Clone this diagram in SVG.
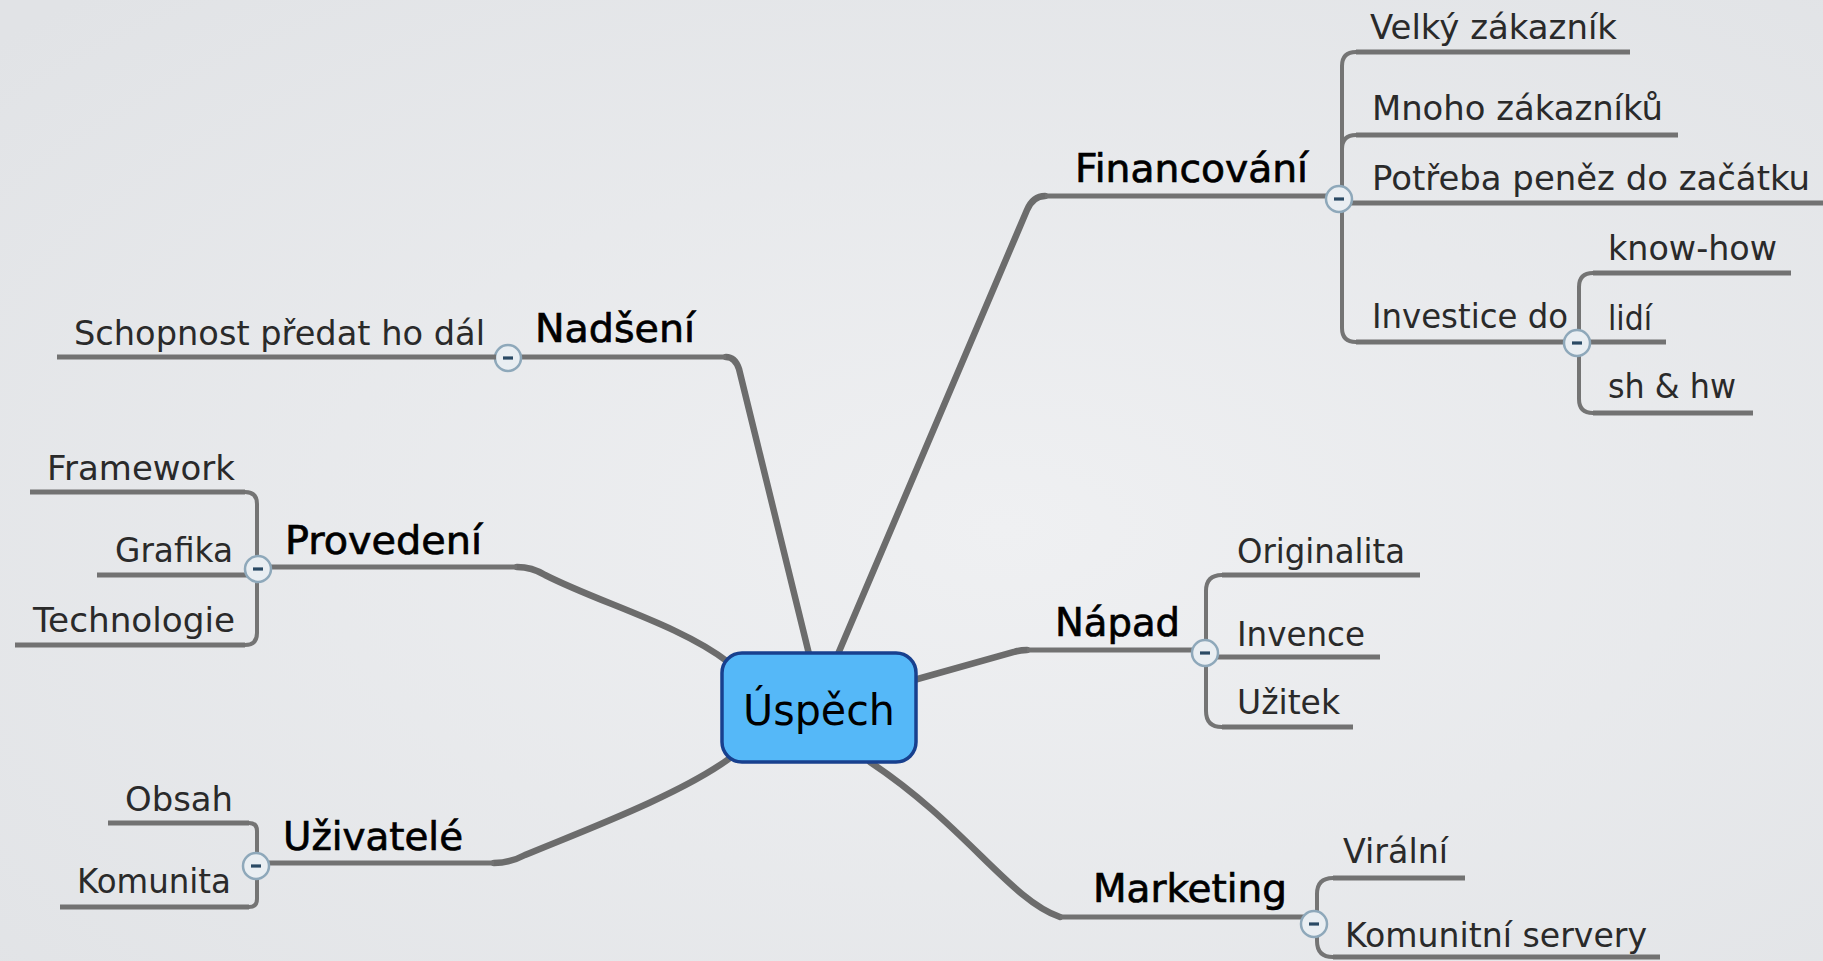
<svg xmlns="http://www.w3.org/2000/svg" width="1823" height="961" viewBox="0 0 1823 961">
<defs>
<radialGradient id="bg" cx="0.55" cy="0.55" r="0.75">
<stop offset="0" stop-color="#eff0f2"/>
<stop offset="1" stop-color="#e1e3e6"/>
</radialGradient>
<g id="btn">
<circle r="13" fill="#e9eef2" stroke="#8ea8ba" stroke-width="2.5"/>
<rect x="-5" y="-1.6" width="10" height="3.2" fill="#2a4a64"/>
</g>
</defs>
<style>
.ln{fill:none;stroke:#727272;stroke-width:5;stroke-linecap:butt}
.br{fill:none;stroke:#747474;stroke-width:4}
.mc{fill:none;stroke:#6c6c6c;stroke-width:6.5;stroke-linecap:round}
.t{font-family:"DejaVu Sans","Noto Sans",sans-serif;font-size:34px;fill:#2a2a2a}
.m{font-family:"DejaVu Sans","Noto Sans",sans-serif;font-size:39px;fill:#000;stroke:#000;stroke-width:0.7}
</style>
<rect width="1823" height="961" fill="url(#bg)"/>

<g id="connectors">
<path class="mc" d="M 726 357 Q 735 357 739 369 L 809 654"/>
<path class="mc" d="M 517 567 Q 532 567 545 575 C 600 603 680 625 728 662"/>
<path class="mc" d="M 494 863 Q 510 863 525 855 C 580 832 680 795 730 758"/>
<path class="mc" d="M 1045 196 Q 1033 196 1027 210 L 838 654"/>
<path class="mc" d="M 914 680 L 1014 652 Q 1020 650 1027 650"/>
<path class="mc" d="M 870 762 C 965 825 1010 900 1060 917"/>
<path class="br" d="M 245 492 Q 257 492 257 504 L 257 633 Q 257 645 245 645"/>
<path class="br" d="M 249 823 Q 257 823 257 831 L 257 899 Q 257 907 249 907"/>
<path class="br" d="M 1356 52 Q 1342 52 1342 66 L 1342 328 Q 1342 342 1356 342"/>
<path class="br" d="M 1342 149 Q 1342 135 1356 135"/>
<path class="br" d="M 1593 273 Q 1579 273 1579 287 L 1579 399 Q 1579 413 1593 413"/>
<path class="br" d="M 1222 575 Q 1206 575 1206 591 L 1206 711 Q 1206 727 1222 727"/>
<path class="br" d="M 1333 878 Q 1317 878 1317 894 L 1317 941 Q 1317 957 1333 957"/>
</g>

<g id="n-uspech">
<rect x="722" y="653" width="194" height="109" rx="20" fill="#55b8f8" stroke="#18408e" stroke-width="3.5"/>
<text x="819" y="725" text-anchor="middle" font-family="DejaVu Sans, Noto Sans, sans-serif" font-size="42" fill="#000" textLength="152" lengthAdjust="spacingAndGlyphs">Úspěch</text>
</g>

<g id="n-nadseni">
<path class="ln" d="M 508 357 L 726 357"/>
<text class="m" x="535" y="342" textLength="160" lengthAdjust="spacingAndGlyphs">Nadšení</text>
<use href="#btn" x="508" y="358"/>
</g>
<g id="n-schopnost">
<path class="ln" d="M 57 357 L 496 357"/>
<text class="t" x="74" y="345" textLength="411" lengthAdjust="spacingAndGlyphs">Schopnost předat ho dál</text>
</g>

<g id="n-provedeni">
<path class="ln" d="M 258 567 L 517 567"/>
<text class="m" x="285" y="554" textLength="197" lengthAdjust="spacingAndGlyphs">Provedení</text>
</g>
<g id="n-framework">
<path class="ln" d="M 30 492 L 245 492"/>
<text class="t" x="47" y="480" textLength="188" lengthAdjust="spacingAndGlyphs">Framework</text>
</g>
<g id="n-grafika">
<path class="ln" d="M 97 575 L 250 575"/>
<text class="t" x="115" y="562" textLength="118" lengthAdjust="spacingAndGlyphs">Grafika</text>
</g>
<g id="n-technologie">
<path class="ln" d="M 15 645 L 245 645"/>
<text class="t" x="33" y="632" textLength="202" lengthAdjust="spacingAndGlyphs">Technologie</text>
</g>
<use href="#btn" x="258" y="569"/>

<g id="n-uzivatele">
<path class="ln" d="M 255 863 L 494 863"/>
<text class="m" x="283" y="850" textLength="180" lengthAdjust="spacingAndGlyphs">Uživatelé</text>
</g>
<g id="n-obsah">
<path class="ln" d="M 108 823 L 249 823"/>
<text class="t" x="125" y="811" textLength="108" lengthAdjust="spacingAndGlyphs">Obsah</text>
</g>
<g id="n-komunita">
<path class="ln" d="M 60 907 L 249 907"/>
<text class="t" x="77" y="893" textLength="154" lengthAdjust="spacingAndGlyphs">Komunita</text>
</g>
<use href="#btn" x="256" y="866"/>

<g id="n-financovani">
<path class="ln" d="M 1045 196 L 1338 196"/>
<text class="m" x="1075" y="182" textLength="233" lengthAdjust="spacingAndGlyphs">Financování</text>
</g>
<g id="n-velky">
<path class="ln" d="M 1356 52 L 1630 52"/>
<text class="t" x="1370" y="39" textLength="247" lengthAdjust="spacingAndGlyphs">Velký zákazník</text>
</g>
<g id="n-mnoho">
<path class="ln" d="M 1356 135 L 1678 135"/>
<text class="t" x="1372" y="120" textLength="291" lengthAdjust="spacingAndGlyphs">Mnoho zákazníků</text>
</g>
<g id="n-potreba">
<path class="ln" d="M 1338 203 L 1823 203"/>
<text class="t" x="1372" y="190" textLength="438" lengthAdjust="spacingAndGlyphs">Potřeba peněz do začátku</text>
</g>
<g id="n-investice">
<path class="ln" d="M 1356 342 L 1576 342"/>
<text class="t" x="1372" y="328" textLength="196" lengthAdjust="spacingAndGlyphs">Investice do</text>
</g>
<g id="n-knowhow">
<path class="ln" d="M 1593 273 L 1791 273"/>
<text class="t" x="1608" y="260" textLength="169" lengthAdjust="spacingAndGlyphs">know-how</text>
</g>
<g id="n-lidi">
<path class="ln" d="M 1576 342 L 1666 342"/>
<text class="t" x="1608" y="330" textLength="44" lengthAdjust="spacingAndGlyphs">lidí</text>
</g>
<g id="n-shhw">
<path class="ln" d="M 1593 413 L 1753 413"/>
<text class="t" x="1608" y="398" textLength="128" lengthAdjust="spacingAndGlyphs">sh &amp; hw</text>
</g>
<use href="#btn" x="1339" y="199"/>
<use href="#btn" x="1577" y="343"/>

<g id="n-napad">
<path class="ln" d="M 1027 650 L 1205 650"/>
<text class="m" x="1055" y="636" textLength="125" lengthAdjust="spacingAndGlyphs">Nápad</text>
</g>
<g id="n-originalita">
<path class="ln" d="M 1222 575 L 1420 575"/>
<text class="t" x="1237" y="563" textLength="168" lengthAdjust="spacingAndGlyphs">Originalita</text>
</g>
<g id="n-invence">
<path class="ln" d="M 1210 657 L 1380 657"/>
<text class="t" x="1237" y="646" textLength="128" lengthAdjust="spacingAndGlyphs">Invence</text>
</g>
<g id="n-uzitek">
<path class="ln" d="M 1222 727 L 1353 727"/>
<text class="t" x="1237" y="714" textLength="103" lengthAdjust="spacingAndGlyphs">Užitek</text>
</g>
<use href="#btn" x="1205" y="653"/>

<g id="n-marketing">
<path class="ln" d="M 1060 917 L 1313 917"/>
<text class="m" x="1093" y="902" textLength="194" lengthAdjust="spacingAndGlyphs">Marketing</text>
</g>
<g id="n-viralni">
<path class="ln" d="M 1333 878 L 1465 878"/>
<text class="t" x="1343" y="863" textLength="105" lengthAdjust="spacingAndGlyphs">Virální</text>
</g>
<g id="n-komunitni">
<path class="ln" d="M 1333 957 L 1660 957"/>
<text class="t" x="1345" y="947" textLength="302" lengthAdjust="spacingAndGlyphs">Komunitní servery</text>
</g>
<use href="#btn" x="1314" y="924"/>
</svg>
